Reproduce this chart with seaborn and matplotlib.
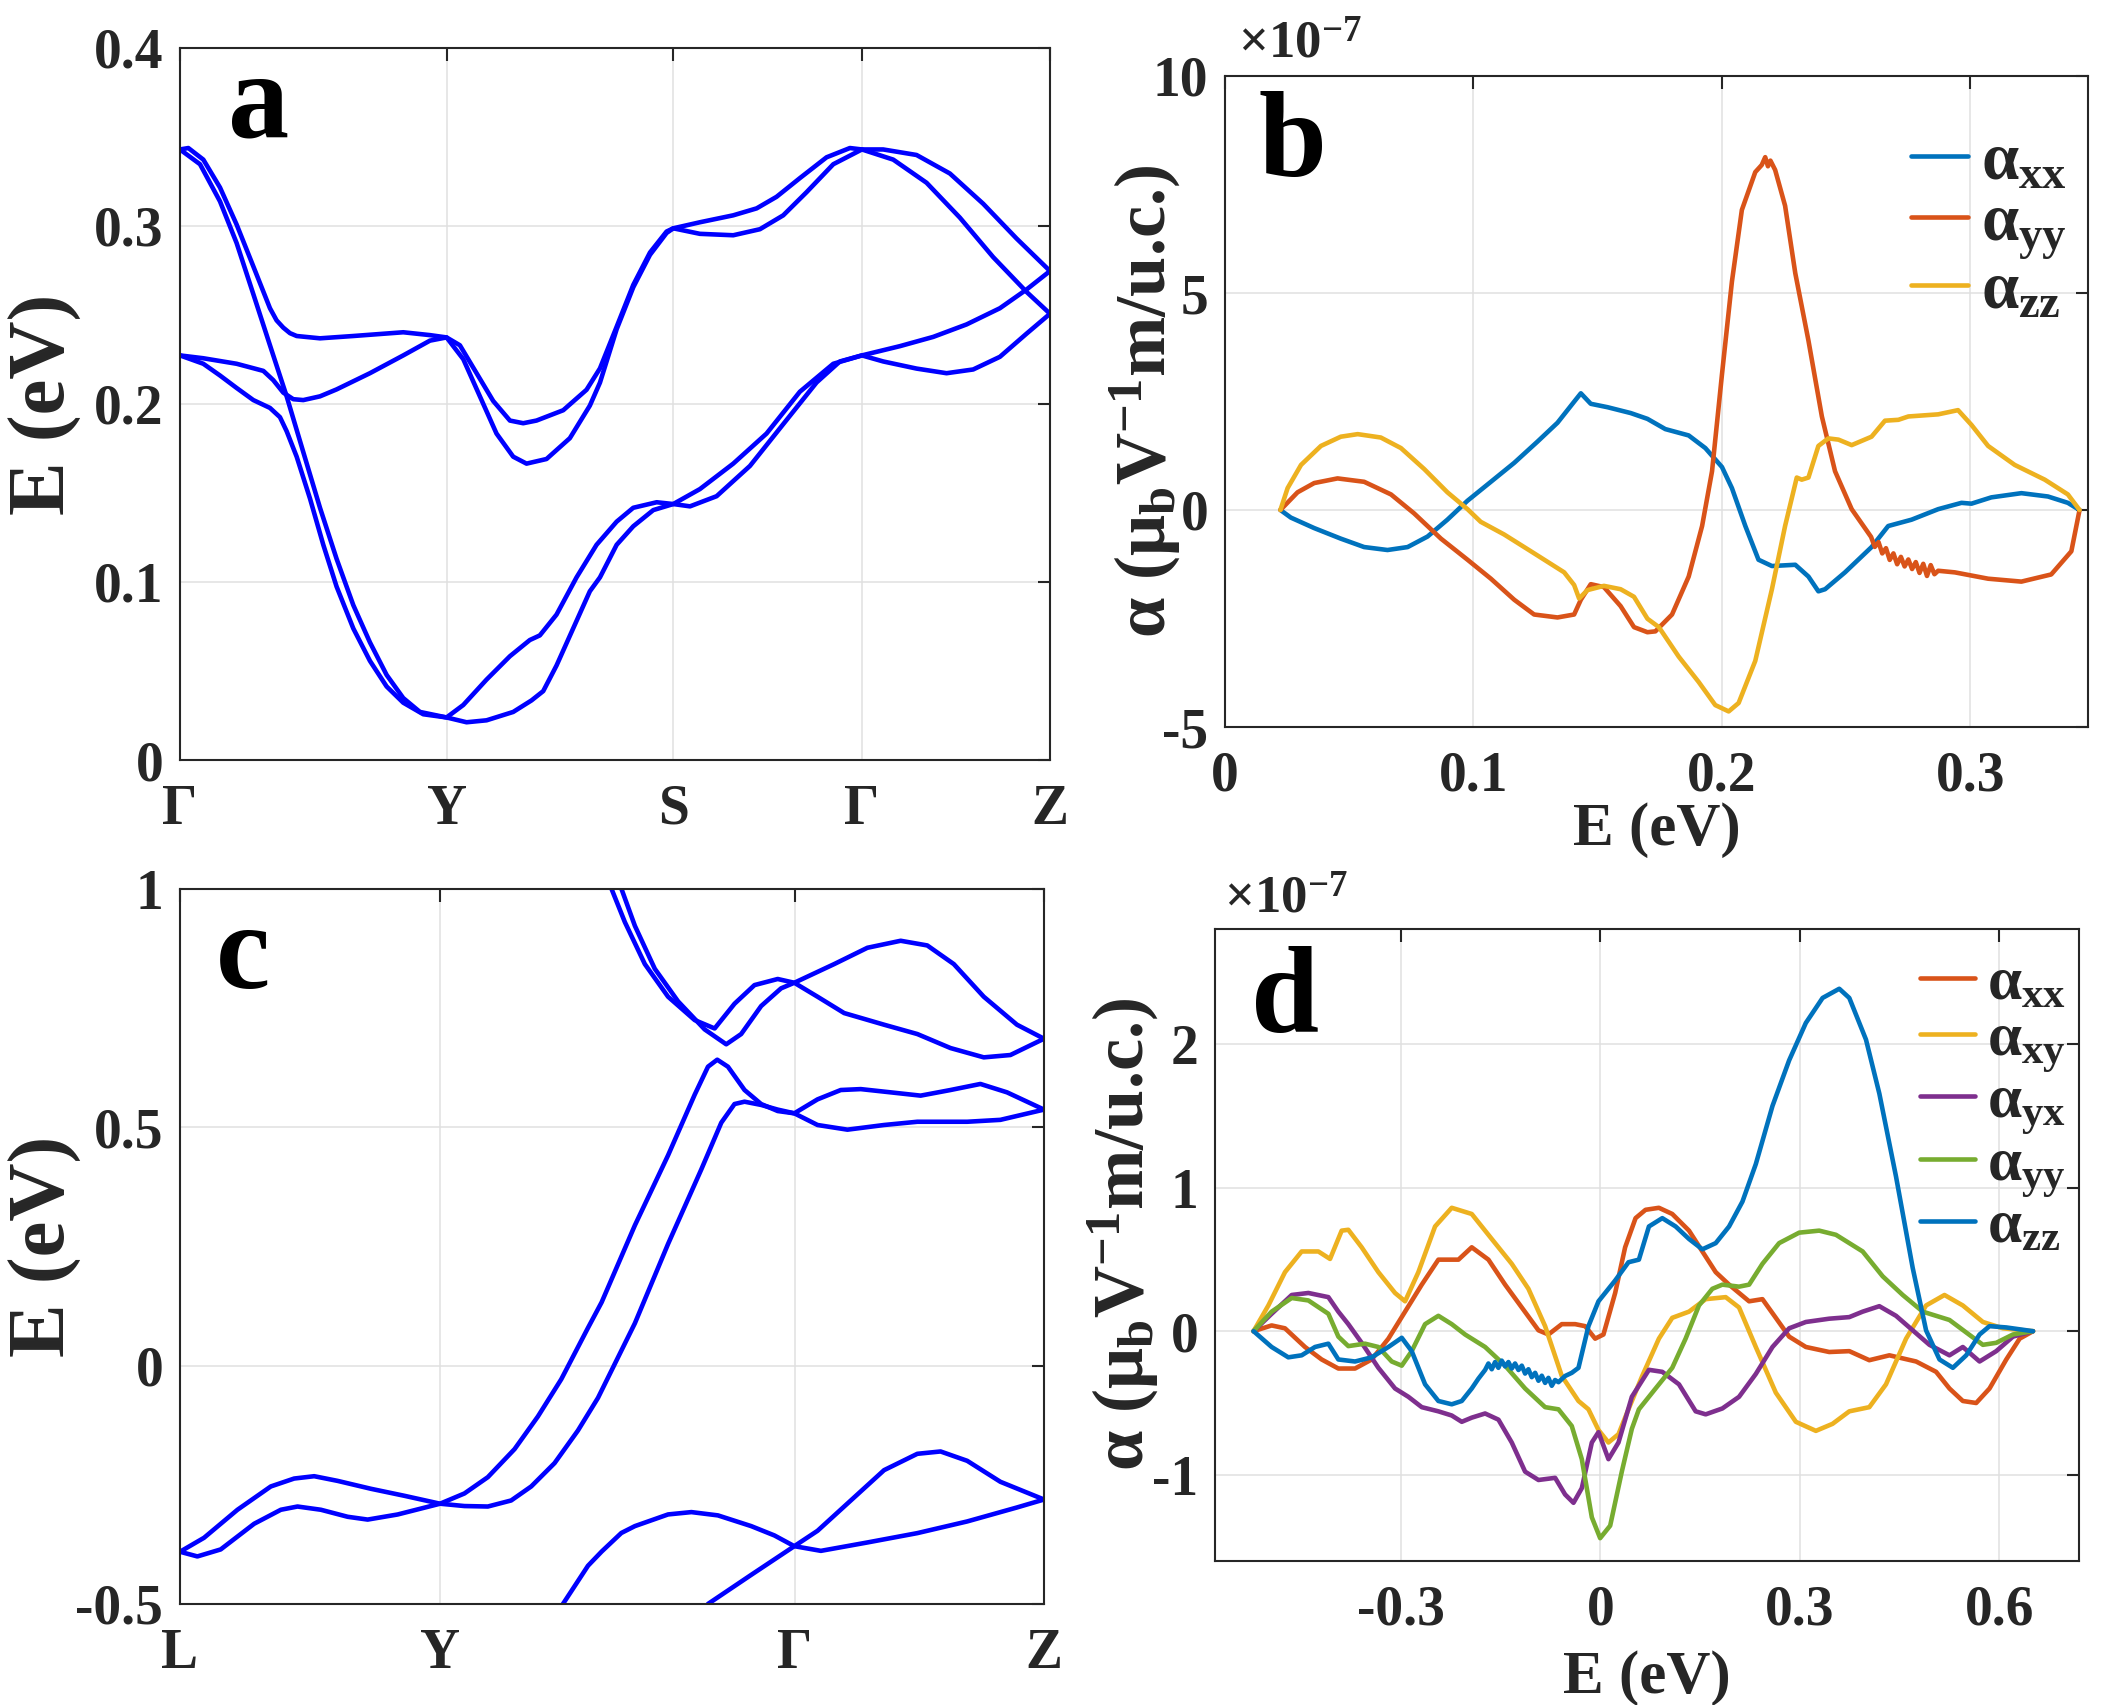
import matplotlib
matplotlib.use("Agg")
import matplotlib.pyplot as plt
import seaborn as sns

# ---------------- panel a : band structure (k fraction, E in eV) ----------------
a_k1 = [0, 0.0096, 0.0268, 0.0460, 0.0651, 0.0843, 0.1034, 0.1110, 0.1187, 0.1264, 0.1341, 0.1609, 0.1992, 0.2566,
        0.2873, 0.3064, 0.3217, 0.3409, 0.3600, 0.3792, 0.3945, 0.4098, 0.4405, 0.4673, 0.4827, 0.5019, 0.5210, 0.5402,
        0.5593, 0.567, 0.5976, 0.6359, 0.6628, 0.6857, 0.7125, 0.7432, 0.7700, 0.7838, 0.8083, 0.8466, 0.8849, 0.9232,
        0.9615, 1.0]
a_E1 = [0.3430, 0.3438, 0.3373, 0.3216, 0.3008, 0.2773, 0.2538, 0.2470, 0.2429, 0.2398, 0.2382, 0.2369, 0.2382, 0.2403,
        0.2387, 0.2374, 0.2330, 0.2173, 0.2017, 0.1907, 0.1892, 0.1907, 0.1965, 0.2080, 0.2200, 0.2434, 0.2669, 0.2851,
        0.2969, 0.2987, 0.3021, 0.3060, 0.3099, 0.3164, 0.3269, 0.3386, 0.3438, 0.3430, 0.3430, 0.3399, 0.3295, 0.3125,
        0.2930, 0.2747]

a_k2 = [0, 0.0268, 0.0651, 0.0958, 0.1072, 0.1187, 0.1302, 0.1417, 0.1609, 0.1800, 0.2183, 0.2566, 0.2873, 0.3064,
        0.3256, 0.3447, 0.3638, 0.3830, 0.3983, 0.4213, 0.4481, 0.4711, 0.4827, 0.5019, 0.5210, 0.5402, 0.5593, 0.567,
        0.5976, 0.6359, 0.6666, 0.6934, 0.7202, 0.7509, 0.7838, 0.8198, 0.8581, 0.8964, 0.9347, 0.9730, 1.0]
a_E2 = [0.2273, 0.2257, 0.2226, 0.2186, 0.2134, 0.2064, 0.2027, 0.2022, 0.2043, 0.2082, 0.2173, 0.2273, 0.2356, 0.2374,
        0.2252, 0.2043, 0.1834, 0.1704, 0.1665, 0.1691, 0.1808, 0.1991, 0.2120, 0.2420, 0.2656, 0.2838, 0.2961, 0.2987,
        0.2956, 0.2948, 0.2982, 0.3060, 0.3190, 0.3347, 0.3430, 0.3373, 0.3243, 0.3047, 0.2825, 0.2630, 0.2507]

a_k3 = [0, 0.0230, 0.0460, 0.0651, 0.0843, 0.1034, 0.1226, 0.1417, 0.1609, 0.1800, 0.1992, 0.2183, 0.2375, 0.2566,
        0.2758, 0.3064, 0.3256, 0.3524, 0.3792, 0.4021, 0.4136, 0.4328, 0.4558, 0.4788, 0.5019, 0.5210, 0.5479, 0.567,
        0.5862, 0.6168, 0.6551, 0.6934, 0.7317, 0.7585, 0.7838, 0.8275, 0.8658, 0.9041, 0.9424, 0.9730, 1.0]
a_E3 = [0.3430, 0.3347, 0.3138, 0.2904, 0.2617, 0.2330, 0.2043, 0.1730, 0.1417, 0.1130, 0.0870, 0.0661, 0.0478, 0.0348,
        0.0270, 0.0239, 0.0309, 0.0452, 0.0583, 0.0674, 0.0700, 0.0817, 0.1026, 0.1209, 0.1339, 0.1417, 0.1448, 0.1438,
        0.1425, 0.1482, 0.1652, 0.1887, 0.2121, 0.2239, 0.2273, 0.2325, 0.2377, 0.2447, 0.2538, 0.2643, 0.2747]

a_k4 = [0, 0.0268, 0.0460, 0.0651, 0.0843, 0.1034, 0.1149, 0.1226, 0.1341, 0.1494, 0.1647, 0.1800, 0.1992, 0.2183,
        0.2375, 0.2566, 0.2796, 0.3064, 0.3294, 0.3524, 0.3830, 0.4041, 0.4175, 0.4328, 0.4519, 0.4711, 0.4827, 0.5019,
        0.5210, 0.5440, 0.567, 0.5976, 0.6359, 0.6742, 0.7125, 0.7509, 0.7838, 0.8083, 0.8466, 0.8811, 0.9117, 0.9424,
        0.9730, 1.0]
a_E4 = [0.2273, 0.2226, 0.2160, 0.2090, 0.2022, 0.1978, 0.1926, 0.1847, 0.1704, 0.1469, 0.1209, 0.0974, 0.0739, 0.0557,
        0.0413, 0.0322, 0.0257, 0.0239, 0.0212, 0.0223, 0.0270, 0.0335, 0.0387, 0.0531, 0.0739, 0.0948, 0.1026, 0.1209,
        0.1313, 0.1404, 0.1438, 0.1522, 0.1665, 0.1834, 0.2069, 0.2226, 0.2273, 0.2239, 0.2199, 0.2173, 0.2194, 0.2265,
        0.2395, 0.2507]

a_tick_pos = [0, 0.3065, 0.567, 0.784, 1.0]
a_tick_lab = ["Γ", "Y", "S", "Γ", "Z"]
a_yticks = [0, 0.1, 0.2, 0.3, 0.4]
a_ylabels = ["0", "0.1", "0.2", "0.3", "0.4"]

# ---------------- panel c : band structure ----------------
c_k1 = [0, 0.0278, 0.0665, 0.1051, 0.1321, 0.1553, 0.1824, 0.2210, 0.2597, 0.3010, 0.3292, 0.3563, 0.3872, 0.4142,
        0.4413, 0.4722, 0.488, 0.5265, 0.5649, 0.5957, 0.6111, 0.6218, 0.6342, 0.6534, 0.6726, 0.6918, 0.711, 0.7379,
        0.7648, 0.7879, 0.8225, 0.8572, 0.8918, 0.9264, 0.9572, 1.0]
c_E1 = [-0.3904, -0.3611, -0.3023, -0.2534, -0.2368, -0.2319, -0.2417, -0.2583, -0.2730, -0.2896, -0.2681, -0.2339,
        -0.1751, -0.1067, -0.0284, 0.0793, 0.133, 0.2945, 0.4413, 0.5685, 0.6272, 0.6419, 0.6272, 0.5783, 0.5489, 0.5342,
        0.5294, 0.5587, 0.5783, 0.5802, 0.5734, 0.5665, 0.5783, 0.5910, 0.5734, 0.5372]

c_k2 = [0, 0.0201, 0.0471, 0.0858, 0.1167, 0.1360, 0.1631, 0.1940, 0.2172, 0.2519, 0.3010, 0.3292, 0.3563, 0.3833,
        0.4065, 0.4335, 0.4606, 0.4838, 0.5265, 0.5649, 0.6034, 0.6265, 0.6418, 0.6534, 0.6726, 0.6918, 0.711, 0.7379,
        0.7725, 0.8149, 0.8534, 0.9111, 0.9495, 1.0]
c_E2 = [-0.3904, -0.4002, -0.3855, -0.3317, -0.3023, -0.2955, -0.3023, -0.3170, -0.3229, -0.3122, -0.2896, -0.2945,
        -0.2955, -0.2828, -0.2534, -0.2045, -0.1360, -0.0675, 0.0890, 0.2554, 0.4119, 0.5098, 0.5489, 0.5538, 0.5470,
        0.5372, 0.5294, 0.5049, 0.4951, 0.5049, 0.5117, 0.5117, 0.5157, 0.5372]

c_k3 = [0.4995, 0.5149, 0.5380, 0.5649, 0.5957, 0.6188, 0.6418, 0.6649, 0.6918, 0.711, 0.7572, 0.7956, 0.8341,
        0.8649, 0.8956, 0.9303, 0.9687, 1.0]
c_E3 = [1.0, 0.9305, 0.8425, 0.7740, 0.7250, 0.7074, 0.7593, 0.7984, 0.8112, 0.8033, 0.8425, 0.8767, 0.8914,
        0.8816, 0.8425, 0.7740, 0.7153, 0.6859]

c_k4 = [0.511, 0.5265, 0.5495, 0.5765, 0.6072, 0.6322, 0.6495, 0.6726, 0.6957, 0.711, 0.7379, 0.7687, 0.8149,
        0.8534, 0.8918, 0.9303, 0.9611, 1.0]
c_E4 = [1.0, 0.9227, 0.8327, 0.7642, 0.7055, 0.6742, 0.6957, 0.7544, 0.7916, 0.8033, 0.7740, 0.7397, 0.7153,
        0.6957, 0.6663, 0.6468, 0.6517, 0.6859]

c_k5 = [0.4432, 0.4722, 0.488, 0.5108, 0.5265, 0.5649, 0.5919, 0.6226, 0.6611, 0.6880, 0.711, 0.7379, 0.7764,
        0.8149, 0.8534, 0.8803, 0.9111, 0.9495, 1.0]
c_E5 = [-0.5, -0.4198, -0.390, -0.351, -0.3366, -0.3121, -0.3072, -0.3141, -0.3366, -0.3562, -0.3787, -0.3464,
        -0.2828, -0.2192, -0.1849, -0.1800, -0.1996, -0.2436, -0.2808]

c_k6 = [0.611, 0.661, 0.711, 0.7418, 0.7956, 0.8534, 0.9111, 0.9687, 1.0]
c_E6 = [-0.5, -0.439, -0.3787, -0.3885, -0.3709, -0.3513, -0.3268, -0.2975, -0.2808]

c_tick_pos = [0, 0.3006, 0.7113, 1.0]
c_tick_lab = ["L", "Y", "Γ", "Z"]
c_yticks = [-0.5, 0, 0.5, 1]
c_ylabels = ["-0.5", "0", "0.5", "1"]

# ---------------- panel b : alpha (x 1e-7) vs E ----------------
b_xx_E = [0.0223, 0.0265, 0.0359, 0.0466, 0.0560, 0.0654, 0.0735, 0.0815, 0.0895, 0.0976, 0.1070, 0.1164, 0.1257,
          0.1338, 0.1405, 0.1432, 0.1472, 0.1539, 0.1633, 0.1700, 0.1772, 0.1866, 0.1933, 0.2, 0.2040, 0.2094, 0.2147,
          0.2201, 0.2295, 0.2348, 0.2388, 0.2415, 0.2495, 0.2602, 0.2669, 0.2763, 0.2870, 0.2964, 0.3004, 0.3084,
          0.3205, 0.3312, 0.3392, 0.3439]
b_xx = [0, -0.175, -0.417, -0.66, -0.854, -0.922, -0.854, -0.612, -0.223, 0.214, 0.650, 1.087, 1.573, 2.01, 2.495,
        2.689, 2.447, 2.369, 2.233, 2.10, 1.864, 1.718, 1.427, 0.990, 0.505, -0.369, -1.146, -1.291, -1.262, -1.534,
        -1.874, -1.825, -1.437, -0.854, -0.369, -0.223, 0.019, 0.165, 0.146, 0.291, 0.388, 0.311, 0.165, 0]

b_yy_E = [0.0223, 0.0292, 0.0359, 0.0453, 0.0560, 0.0668, 0.0761, 0.0869, 0.0976, 0.1070, 0.1164, 0.1244, 0.1338,
          0.1405, 0.1432, 0.1472, 0.1525, 0.1592, 0.1646, 0.1700, 0.1732, 0.1799, 0.1866, 0.1920, 0.1960, 0.2, 0.2040,
          0.2080, 0.2134, 0.2160, 0.2174, 0.2185, 0.2195, 0.2214, 0.2254, 0.2295, 0.2348, 0.2402, 0.2455, 0.2522,
          0.2600, 0.2615, 0.2630, 0.2645, 0.2660, 0.2675, 0.2690, 0.2705, 0.2720, 0.2735, 0.2750, 0.2765, 0.2780,
          0.2795, 0.2810, 0.2825, 0.2840, 0.2855, 0.2870, 0.2937, 0.3071, 0.3205, 0.3325, 0.3406, 0.3439]
b_yy = [0, 0.408, 0.621, 0.728, 0.650, 0.359, -0.078, -0.66, -1.146, -1.583, -2.068, -2.408, -2.476, -2.408,
        -2.068, -1.709, -1.777, -2.214, -2.699, -2.816, -2.796, -2.408, -1.534, -0.369, 0.893, 3.126, 5.262, 6.913,
        7.786, 7.95, 8.13, 7.92, 8.05, 7.835, 7.010, 5.456, 3.903, 2.155, 0.893, 0.019,
        -0.62, -0.85, -0.74, -1.00, -0.88, -1.15, -1.00, -1.25, -1.08, -1.30, -1.14, -1.36, -1.20, -1.45, -1.24,
        -1.52, -1.27, -1.48, -1.40, -1.437, -1.583, -1.650, -1.485, -0.951, 0]

b_zz_E = [0.0223, 0.0252, 0.0306, 0.0386, 0.0466, 0.0534, 0.0627, 0.0708, 0.0802, 0.0895, 0.0976, 0.1029, 0.1123,
          0.1231, 0.1298, 0.1365, 0.1405, 0.1425, 0.1459, 0.1525, 0.1592, 0.1646, 0.1700, 0.1746, 0.1826, 0.1906,
          0.1973, 0.2027, 0.2067, 0.2134, 0.2201, 0.2254, 0.2301, 0.2321, 0.2348, 0.2388, 0.2428, 0.2469, 0.2522,
          0.2602, 0.2656, 0.2710, 0.2750, 0.2870, 0.2950, 0.3004, 0.3071, 0.3178, 0.3299, 0.3392, 0.3439]
b_zz = [0, 0.505, 1.039, 1.476, 1.689, 1.748, 1.670, 1.427, 0.942, 0.408, 0.019, -0.272, -0.563, -0.951, -1.194,
        -1.437, -1.728, -2.039, -1.845, -1.748, -1.825, -2.0, -2.505, -2.699, -3.379, -3.961, -4.495, -4.641, -4.447,
        -3.476, -1.825, -0.369, 0.748, 0.699, 0.748, 1.476, 1.650, 1.621, 1.495, 1.689, 2.058, 2.078, 2.155, 2.204,
        2.301, 1.961, 1.476, 1.039, 0.699, 0.359, 0]

b_labels = [r"$\alpha_{xx}$", r"$\alpha_{yy}$", r"$\alpha_{zz}$"]
b_xticks = [0, 0.1, 0.2, 0.3]
b_xlabels = ["0", "0.1", "0.2", "0.3"]
b_yticks = [-5, 0, 5, 10]
b_ylabels = ["-5", "0", "5", "10"]

# ---------------- panel d : alpha (x 1e-7) vs E ----------------
d_xx_E = [-0.522, -0.4948, -0.4747, -0.4446, -0.4195, -0.3944, -0.3693, -0.3442, -0.3191, -0.2940, -0.2689, -0.2439,
          -0.2137, -0.1937, -0.1686, -0.1435, -0.1184, -0.0933, -0.0783, -0.0582, -0.0381, -0.0231, -0.0080, 0.0045,
          0.0221, 0.0371, 0.0528, 0.0678, 0.0879, 0.1080, 0.1332, 0.1533, 0.1734, 0.1935, 0.2236, 0.2437, 0.2638,
          0.2839, 0.3090, 0.3442, 0.3744, 0.4045, 0.4347, 0.4749, 0.5050, 0.5251, 0.5452, 0.5653, 0.5854, 0.6106,
          0.6307, 0.6508]
d_xx = [0, 0.040, 0.020, -0.110, -0.197, -0.260, -0.260, -0.197, -0.052, 0.136, 0.324, 0.498, 0.498, 0.584, 0.498,
        0.324, 0.165, 0.006, -0.023, 0.049, 0.049, 0.035, -0.052, -0.023, 0.266, 0.584, 0.787, 0.845, 0.859, 0.816,
        0.700, 0.555, 0.411, 0.324, 0.208, 0.223, 0.093, -0.038, -0.110, -0.145, -0.139, -0.202, -0.168, -0.211,
        -0.283, -0.399, -0.486, -0.500, -0.399, -0.197, -0.052, 0]

d_xy_E = [-0.522, -0.4997, -0.4747, -0.4496, -0.4245, -0.4069, -0.3894, -0.3794, -0.3593, -0.3342, -0.3091, -0.2940,
          -0.2740, -0.2489, -0.2238, -0.1937, -0.1636, -0.1335, -0.1084, -0.0833, -0.0582, -0.0331, -0.0181, -0.0030,
          0.0120, 0.0271, 0.0421, 0.0628, 0.0879, 0.1080, 0.1332, 0.1583, 0.1884, 0.2085, 0.2337, 0.2638, 0.2940,
          0.3241, 0.3492, 0.3744, 0.4045, 0.4296, 0.4598, 0.4899, 0.5176, 0.5452, 0.5754, 0.6055, 0.6508]
d_xy = [0, 0.179, 0.411, 0.555, 0.555, 0.503, 0.700, 0.706, 0.584, 0.411, 0.266, 0.208, 0.411, 0.729, 0.859, 0.816,
        0.642, 0.469, 0.295, 0.035, -0.312, -0.486, -0.544, -0.688, -0.775, -0.717, -0.544, -0.312, -0.052, 0.093,
        0.136, 0.223, 0.237, 0.165, -0.110, -0.428, -0.631, -0.694, -0.645, -0.558, -0.529, -0.370, -0.052, 0.179,
        0.252, 0.179, 0.064, 0.020, 0]

d_yx_E = [-0.522, -0.4948, -0.4646, -0.4395, -0.4094, -0.3944, -0.3794, -0.3593, -0.3342, -0.3091, -0.2890, -0.2689,
          -0.2439, -0.2238, -0.2087, -0.1937, -0.1736, -0.1535, -0.1335, -0.1134, -0.0933, -0.0682, -0.0532, -0.0406,
          -0.0281, -0.0130, -0.0030, 0.0120, 0.0271, 0.0472, 0.0729, 0.0930, 0.1181, 0.1432, 0.1583, 0.1834, 0.2085,
          0.2337, 0.2588, 0.2839, 0.3090, 0.3442, 0.3744, 0.3945, 0.4196, 0.4447, 0.4698, 0.4950, 0.5251, 0.5452,
          0.5704, 0.5955, 0.6206, 0.6508]
d_yx = [0, 0.121, 0.252, 0.266, 0.237, 0.136, 0.049, -0.081, -0.255, -0.399, -0.457, -0.529, -0.558, -0.587, -0.631,
        -0.602, -0.573, -0.616, -0.775, -0.978, -1.036, -1.021, -1.137, -1.195, -1.093, -0.775, -0.703, -0.891, -0.775,
        -0.457, -0.269, -0.283, -0.370, -0.558, -0.579, -0.538, -0.457, -0.298, -0.110, 0.020, 0.064, 0.087, 0.098,
        0.136, 0.174, 0.107, 0.006, -0.095, -0.168, -0.110, -0.211, -0.139, -0.038, 0]

d_yy_E = [-0.522, -0.4948, -0.4646, -0.4395, -0.4094, -0.3944, -0.3794, -0.3543, -0.3342, -0.3141, -0.2990, -0.2840,
          -0.2639, -0.2439, -0.2238, -0.2037, -0.1736, -0.1435, -0.1134, -0.0833, -0.0632, -0.0432, -0.0281, -0.0130,
          -0.0005, 0.0146, 0.0321, 0.0472, 0.0578, 0.0829, 0.1080, 0.1281, 0.1482, 0.1683, 0.1834, 0.2085, 0.2236,
          0.2437, 0.2688, 0.2990, 0.3291, 0.3543, 0.3945, 0.4246, 0.4548, 0.4849, 0.5050, 0.5251, 0.5503, 0.5754,
          0.5955, 0.6206, 0.6508]
d_yy = [0, 0.136, 0.231, 0.214, 0.121, -0.038, -0.104, -0.087, -0.110, -0.211, -0.240, -0.139, 0.049, 0.107, 0.049,
        -0.023, -0.110, -0.240, -0.399, -0.529, -0.544, -0.660, -0.891, -1.296, -1.441, -1.354, -0.978, -0.680, -0.544,
        -0.399, -0.255, -0.052, 0.179, 0.295, 0.324, 0.310, 0.324, 0.469, 0.613, 0.686, 0.700, 0.671, 0.555, 0.382,
        0.252, 0.136, 0.107, 0.078, -0.009, -0.095, -0.081, -0.023, 0]

d_zz_E = [-0.522, -0.4948, -0.4697, -0.4496, -0.4295, -0.4094, -0.3944, -0.3693, -0.3442, -0.3191, -0.2990, -0.2840,
          -0.2639, -0.2439, -0.2238, -0.2087, -0.1937, -0.1836, -0.1786, -0.1736, -0.1686, -0.1636, -0.1586, -0.1536,
          -0.1486, -0.1435, -0.1385, -0.1335, -0.1285, -0.1234, -0.1184, -0.1134, -0.1084, -0.1034, -0.0983, -0.0933,
          -0.0883, -0.0833, -0.0783, -0.0733, -0.0683, -0.0632, -0.0532, -0.0432, -0.0331, -0.0181, -0.0030, 0.0221,
          0.0421, 0.0578, 0.0729, 0.0930, 0.1131, 0.1332, 0.1533, 0.1734, 0.1935, 0.2136, 0.2337, 0.2588, 0.2839,
          0.3090, 0.3342, 0.3593, 0.3744, 0.3995, 0.4196, 0.4447, 0.4698, 0.4899, 0.5101, 0.5302, 0.5503, 0.5704,
          0.5854, 0.6106, 0.6508]
d_zz = [0, -0.110, -0.182, -0.168, -0.110, -0.087, -0.197, -0.211, -0.182, -0.110, -0.046, -0.139, -0.370, -0.486,
        -0.509, -0.486, -0.399, -0.330, -0.300, -0.270, -0.225, -0.265, -0.215, -0.255, -0.205, -0.245, -0.215, -0.260,
        -0.225, -0.270, -0.240, -0.295, -0.265, -0.320, -0.290, -0.345, -0.310, -0.360, -0.325, -0.380, -0.340, -0.355,
        -0.312, -0.290, -0.255, 0.035, 0.208, 0.353, 0.480, 0.498, 0.729, 0.787, 0.729, 0.642, 0.570, 0.613, 0.729,
        0.902, 1.163, 1.568, 1.886, 2.146, 2.320, 2.384, 2.320, 2.030, 1.654, 1.076, 0.440, 0.006, -0.197, -0.255,
        -0.168, -0.023, 0.035, 0.026, 0]

d_labels = [r"$\alpha_{xx}$", r"$\alpha_{xy}$", r"$\alpha_{yx}$", r"$\alpha_{yy}$", r"$\alpha_{zz}$"]
d_xticks = [-0.3, 0, 0.3, 0.6]
d_xlabels = ["-0.3", "0", "0.3", "0.6"]
d_yticks = [-1, 0, 1, 2]
d_ylabels = ["-1", "0", "1", "2"]

# ---------------- styling ----------------
sns.set_style("white")
plt.rcParams["font.family"] = ["Liberation Serif", "DejaVu Serif"]
plt.rcParams["font.weight"] = "bold"
plt.rcParams["mathtext.fontset"] = "custom"
plt.rcParams["mathtext.rm"] = "Liberation Serif:bold"
plt.rcParams["mathtext.it"] = "Liberation Serif:bold"
plt.rcParams["mathtext.bf"] = "Liberation Serif:bold"
plt.rcParams["axes.unicode_minus"] = False

BLUE = "#0072BD"
ORANGE = "#D95319"
YELLOW = "#EDB120"
PURPLE = "#7E2F8E"
GREEN = "#77AC30"
BAND = "#0000FF"
TXT = "#262626"

W, H = 2117, 1705
fig = plt.figure(figsize=(W / 100, H / 100), dpi=100)


def rect(l, r, t, b):
    return [l / W, 1 - b / H, (r - l) / W, (b - t) / H]


ax_a = fig.add_axes(rect(180, 1050, 48, 760))
ax_b = fig.add_axes(rect(1225, 2088, 76, 727))
ax_c = fig.add_axes(rect(180, 1044, 889, 1604))
ax_d = fig.add_axes(rect(1215, 2079, 929, 1561))

TICK_FS = 40
LW = 3.3


def style(ax):
    ax.grid(True, color="#e0e0e0", linewidth=1.1)
    ax.set_axisbelow(True)
    for s in ax.spines.values():
        s.set_color(TXT)
        s.set_linewidth(1.5)
        s.set_visible(True)
    ax.tick_params(direction="in", length=9, width=1.5, top=True, right=True,
                   labelsize=TICK_FS, colors=TXT, pad=12)
    ax.tick_params(axis="x", pad=17)
    for lab in ax.get_xticklabels() + ax.get_yticklabels():
        lab.set_fontweight("bold")


# panel a
for k, e in [(a_k1, a_E1), (a_k2, a_E2), (a_k3, a_E3), (a_k4, a_E4)]:
    sns.lineplot(x=k, y=e, ax=ax_a, color=BAND, linewidth=LW, sort=False, estimator=None, legend=False)
ax_a.set_xlim(0, 1)
ax_a.set_ylim(0, 0.4)
ax_a.set_xticks(a_tick_pos)
ax_a.set_xticklabels(a_tick_lab)
ax_a.set_yticks(a_yticks)
ax_a.set_yticklabels(a_ylabels)
style(ax_a)
ax_a.set_ylabel("E (eV)", fontsize=58, fontweight="bold", color=TXT, va="center")
ax_a.yaxis.set_label_coords(-0.155, 0.5)

# panel c
for k, e in [(c_k1, c_E1), (c_k2, c_E2), (c_k3, c_E3), (c_k4, c_E4), (c_k5, c_E5), (c_k6, c_E6)]:
    sns.lineplot(x=k, y=e, ax=ax_c, color=BAND, linewidth=LW, sort=False, estimator=None, legend=False)
ax_c.set_xlim(0, 1)
ax_c.set_ylim(-0.5, 1)
ax_c.set_xticks(c_tick_pos)
ax_c.set_xticklabels(c_tick_lab)
ax_c.set_yticks(c_yticks)
ax_c.set_yticklabels(c_ylabels)
style(ax_c)
ax_c.set_ylabel("E (eV)", fontsize=58, fontweight="bold", color=TXT, va="center")
ax_c.yaxis.set_label_coords(-0.156, 0.5)

# panel b
for e, v, col, lab in [(b_xx_E, b_xx, BLUE, b_labels[0]), (b_yy_E, b_yy, ORANGE, b_labels[1]),
                       (b_zz_E, b_zz, YELLOW, b_labels[2])]:
    sns.lineplot(x=e, y=v, ax=ax_b, color=col, linewidth=LW, sort=False, estimator=None, label=lab)
ax_b.set_xlim(0, 0.3473)
ax_b.set_ylim(-5, 10)
ax_b.set_xticks(b_xticks)
ax_b.set_xticklabels(b_xlabels)
ax_b.set_yticks(b_yticks)
ax_b.set_yticklabels(b_ylabels)
style(ax_b)
ax_b.set_xlabel("E (eV)", fontsize=44, fontweight="bold", color=TXT, va="center")
ax_b.xaxis.set_label_coords(0.5, -0.158)
ax_b.set_ylabel(r"$\alpha$ ($\mu_b$V$^{-1}$m/u.c.)", fontsize=52, fontweight="bold", color=TXT, va="center")
ax_b.yaxis.set_label_coords(-0.093, 0.5)
ax_b.legend(loc="upper right", bbox_to_anchor=(1.022, 0.975), frameon=False, fontsize=48,
            handlelength=0.85, handletextpad=0.2, labelspacing=0.0, borderaxespad=0.2)

# panel d
for e, v, col, lab in [(d_xx_E, d_xx, ORANGE, d_labels[0]), (d_xy_E, d_xy, YELLOW, d_labels[1]),
                       (d_yx_E, d_yx, PURPLE, d_labels[2]), (d_yy_E, d_yy, GREEN, d_labels[3]),
                       (d_zz_E, d_zz, BLUE, d_labels[4])]:
    sns.lineplot(x=e, y=v, ax=ax_d, color=col, linewidth=LW, sort=False, estimator=None, label=lab)
ax_d.set_xlim(-0.58, 0.72)
ax_d.set_ylim(-1.6, 2.8)
ax_d.set_xticks(d_xticks)
ax_d.set_xticklabels(d_xlabels)
ax_d.set_yticks(d_yticks)
ax_d.set_yticklabels(d_ylabels)
style(ax_d)
ax_d.set_xlabel("E (eV)", fontsize=44, fontweight="bold", color=TXT, va="center")
ax_d.xaxis.set_label_coords(0.5, -0.185)
ax_d.set_ylabel(r"$\alpha$ ($\mu_b$V$^{-1}$m/u.c.)", fontsize=52, fontweight="bold", color=TXT, va="center")
ax_d.yaxis.set_label_coords(-0.107, 0.516)
ax_d.legend(loc="upper right", bbox_to_anchor=(1.02, 1.005), frameon=False, fontsize=44,
            handlelength=0.9, handletextpad=0.2, labelspacing=0.0, borderaxespad=0.1)

# exponent labels
fig.text(1238 / W, 1 - 58 / H, r"$\times$10$^{-7}$", fontsize=38, color=TXT, ha="left", va="baseline")
fig.text(1224 / W, 1 - 913 / H, r"$\times$10$^{-7}$", fontsize=38, color=TXT, ha="left", va="baseline")

# panel letters
for txt, x, y in [("a", 259, 137), ("b", 1293, 176), ("c", 243, 988), ("d", 1285, 1031)]:
    fig.text(x / W, 1 - y / H, txt, fontsize=88, fontweight="bold", color="black", ha="center", va="baseline")

fig.savefig("out.png", dpi=100, facecolor="white")
